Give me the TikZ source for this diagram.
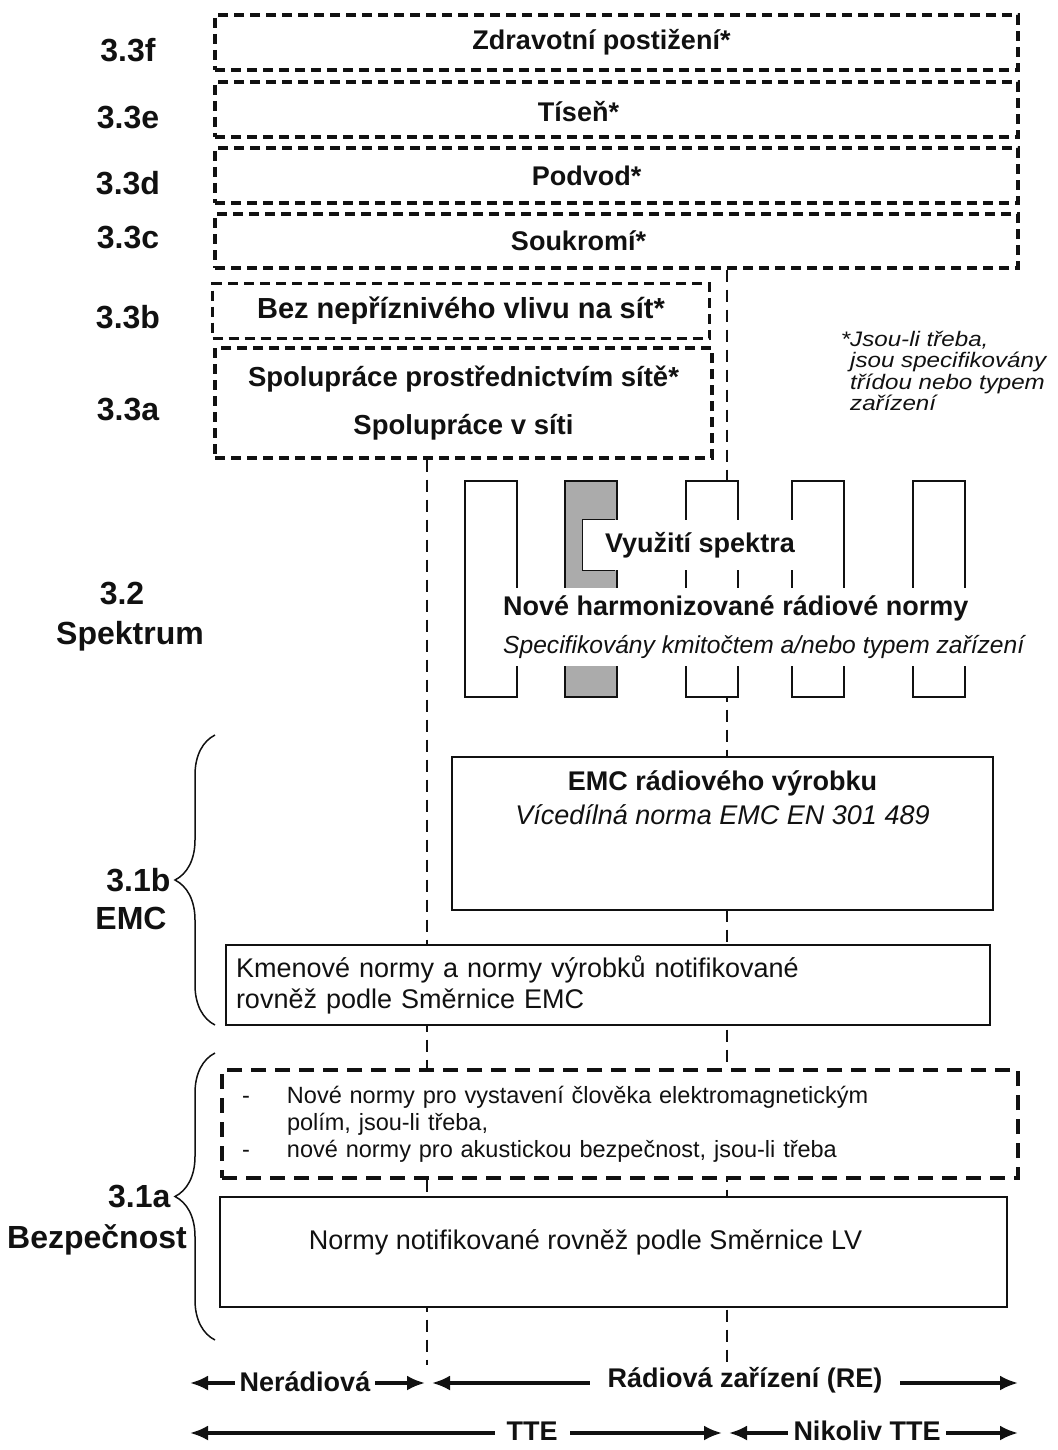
\documentclass[tikz,border=0pt]{standalone}
\usepackage{fontspec}
\setmainfont{Liberation Sans}
\newfontfamily\widefont[FakeStretch=1.15]{Liberation Sans}
\usepackage{tikz}
\usetikzlibrary{arrows.meta,positioning,calc,decorations.pathreplacing}
\definecolor{Ink}{HTML}{111111}
\definecolor{BarGrey}{HTML}{ABABAB}
\newcommand{\bodysize}{\fontsize{27pt}{31pt}\selectfont}
\newcommand{\labsize}{\fontsize{32pt}{36pt}\selectfont\bfseries}
\newcommand{\smallsize}{\fontsize{23.5pt}{27pt}\selectfont}

\begin{document}
\begin{tikzpicture}[x=1pt,y=-1pt,>=Latex,font=\bodysize,text=Ink,
  dbox/.style={draw=Ink,line width=3.2pt,dash pattern=on 10pt off 6pt,fill=white,inner sep=0pt},
  sbox/.style={draw=Ink,line width=2.8pt,fill=white,inner sep=0pt},
  guide/.style={draw=Ink,line width=2.4pt,dash pattern=on 12pt off 8pt},
  bar/.style={draw=Ink,line width=2.8pt},
  boxtxt/.style={font=\bodysize\bfseries},
  lab/.style={font=\labsize},
  curly/.style={draw=Ink,line width=1.5pt,decorate,decoration={brace,amplitude=40pt}},
  span/.style={draw=Ink,line width=3.2pt,{Latex[length=18pt,width=15pt]}-{Latex[length=18pt,width=15pt]}},
  spantxt/.style={fill=white,font=\bodysize\bfseries,inner ysep=2pt,inner xsep=5pt}]
  \useasboundingbox (0,0) rectangle (1057,1450);

  \node[dbox,minimum width=803pt,minimum height=55pt] (z) at (616.5,42.5) {};
  \node[boxtxt] (ztxt) at ($(z)+(-15,0)$) {Zdravotní postižení*};
  \node[dbox,minimum width=803pt,minimum height=55pt] (t) at (616.5,109.5) {};
  \node[boxtxt] (ttxt) at ($(t)+(-38,2)$) {Tíseň*};
  \node[dbox,minimum width=803pt,minimum height=55pt] (p) at (616.5,175.5) {};
  \node[boxtxt] (ptxt) at ($(p)+(-30,0)$) {Podvod*};
  \node[dbox,minimum width=803pt,minimum height=54pt] (s) at (616.5,241) {};
  \node[boxtxt] (stxt) at ($(s)+(-38,0)$) {Soukromí*};
  \node[dbox,minimum width=497pt,minimum height=55pt,font=\fontsize{29pt}{33pt}\selectfont\bfseries] (bez) at (461,311) {Bez nepříznivého vlivu na sít*};
  \node[dbox,minimum width=497pt,minimum height=110pt,align=center,font=\fontsize{27.5pt}{31pt}\selectfont\bfseries] (spol) at (463.5,403) {Spolupráce prostřednictvím sítě*\\[17pt]Spolupráce v síti};

  \coordinate (nrbot) at (427,1365);
  \coordinate (rebot) at (727,1365);
  \draw[guide] (spol.south -| nrbot) -- (nrbot);
  \draw[guide] (s.south -| rebot) -- (rebot);

  \foreach \xl/\shade in {465/white,565/BarGrey,686/white,792/white,913/white}
    \draw[bar,fill=\shade] (\xl,481) rectangle ++(52,216);
  \node[fill=white,inner sep=0pt,minimum width=234pt,minimum height=50pt,font=\bodysize\bfseries] (use) at (700,545) {Využití spektra};
  \draw[line width=1pt,draw=Ink] ($(use.north west)+(32,0)$) -- (use.north west) -- (use.south west) -- ++(32,0);
  \node[fill=white,anchor=west,align=left,inner xsep=5pt,inner ysep=8pt] (hrn) at (498,627)
    {\textbf{Nové harmonizované rádiové normy}\\[7pt]{\fontsize{24.6pt}{31pt}\selectfont\itshape Specifikovány kmitočtem a/nebo typem zařízení}};

  \node[sbox,minimum width=541pt,minimum height=153pt] (emc) at (722.5,833.5) {};
  \node[below=12pt of emc.north,align=center] (emctxt) {\textbf{EMC rádiového výrobku}\\[3pt]\textit{Vícedílná norma EMC EN 301 489}};
  \node[sbox,minimum width=764pt,minimum height=80pt,text width=744pt,align=left,inner xsep=10pt] (gen) at (608,985)
    {Kmenové normy a normy výrobků notifikované\\rovněž podle Směrnice EMC};
  \node[dbox,dash pattern=on 15pt off 9pt,font=\smallsize,minimum width=796pt,minimum height=108pt,text width=756pt,align=left,inner xsep=20pt] (hum) at (620,1124)
    {\makebox[45pt][l]{-}Nové normy pro vystavení člověka elektromagnetickým\\\hspace*{45pt}polím, jsou-li třeba,\\\makebox[45pt][l]{-}nové normy pro akustickou bezpečnost, jsou-li třeba};
  \node[sbox,minimum width=787pt,minimum height=110pt] (lv) at (613.5,1252) {};
  \node (lvtxt) at ($(lv.center)+(-28,-10)$) {Normy notifikované rovněž podle Směrnice LV};

  \node[anchor=north west,align=left,inner sep=0pt,font=\fontsize{21pt}{21.5pt}\selectfont\widefont\itshape] (foot) at (850,331)
    {\llap{*}Jsou-li třeba,\\jsou specifikovány\\třídou nebo typem\\zařízení};

  \foreach \nm/\yy in {f/50,e/118,d/183,c/238,b/317,a/410}
    \node[lab] (l33\nm) at (128,\yy) {3.3\nm};
  \node[lab] (l32) at (122,594) {3.2};
  \node[lab] (spek) at (130,636) {Spektrum};
  \draw[curly] (215,1025) -- (215,735);
  \node[lab,anchor=east] (l31b) at (174,880) {3.1b};
  \node[lab] (emclab) at (131,918) {EMC};
  \draw[curly] (215,1340) -- (215,1053);
  \node[lab,anchor=east] (l31a) at (174,1196) {3.1a};
  \node[lab] (bezp) at (97,1240) {Bezpečnost};

  \coordinate (nrL) at (190,1383);
  \coordinate (nrR) at (425,1383);
  \coordinate (reL) at (432,1383);
  \coordinate (reR) at (1018,1383);
  \coordinate (tteL) at (190,1433);
  \coordinate (tteR) at (722,1433);
  \coordinate (ntL) at (729,1433);
  \coordinate (ntR) at (1018,1433);
  \draw[span] (nrL) -- (nrR);
  \draw[span] (reL) -- (reR);
  \draw[span] (tteL) -- (tteR);
  \draw[span] (ntL) -- (ntR);
  \node[spantxt] (nrtxt) at (305,1382) {Nerádiová};
  \node[spantxt,inner xsep=18pt] (retxt) at (745,1380) {Rádiová zařízení (RE)};
  \node[spantxt,inner xsep=12pt] (ttetxt) at (532,1431) {TTE};
  \node[spantxt] (nttxt) at (867,1431) {Nikoliv TTE};
\end{tikzpicture}
\end{document}
